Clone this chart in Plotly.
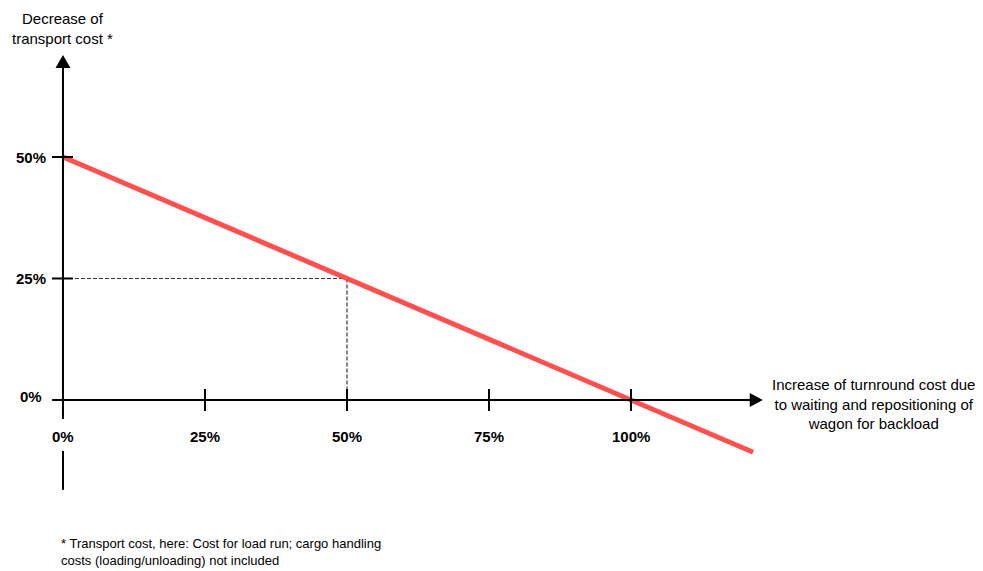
import plotly.graph_objects as go

# ---- data ----
x_ticks = [0, 25, 50, 75, 100]
x_tick_labels = ["0%", "25%", "50%", "75%", "100%"]
y_ticks = [0, 25, 50]
y_tick_labels = ["0%", "25%", "50%"]

line_x = [0, 121.5]          # increase of turnround cost (%)
line_y = [50, -10.75]        # decrease of transport cost (%)

ref_x = [0, 50]              # dashed reference at 50% -> 25%
ref_y = [25, 25]

x_axis_extent = [-1.9, 121.0]   # x axis line (before arrow head)
x_arrow_tip = 123.2
y_axis_lower = [-18.5, -10.5]   # y axis below the "0%" label
y_axis_upper = [-3.9, 68.3]     # y axis above the label (to arrow base)

y_title = "Decrease of<br>transport cost *"
x_title = "Increase of turnround cost due<br>to waiting and repositioning of<br>wagon for backload"
footnote = "* Transport cost, here: Cost for load run; cargo handling<br>costs (loading/unloading) not included"

FONT = "Arial, Liberation Sans, sans-serif"
RED = "#FF5050"

fig = go.Figure()

# main red line
fig.add_trace(go.Scatter(x=line_x, y=line_y, mode="lines",
                         line=dict(color=RED, width=5), hoverinfo="skip",
                         showlegend=False))

shapes = []
# dashed reference lines
shapes.append(dict(type="line", xref="x", yref="y", x0=ref_x[0], x1=ref_x[1],
                   y0=ref_y[0], y1=ref_y[1],
                   line=dict(color="#333333", width=1, dash="4px,2px"), layer="below"))
shapes.append(dict(type="line", xref="x", yref="y", x0=ref_x[1], x1=ref_x[1],
                   y0=ref_y[1], y1=2.3,
                   line=dict(color="#333333", width=1.2, dash="4px,2px"), layer="below"))

# x axis line
shapes.append(dict(type="line", xref="x", yref="y", x0=x_axis_extent[0], x1=x_axis_extent[1],
                   y0=0, y1=0, line=dict(color="black", width=2)))
# y axis segments
for seg in (y_axis_lower, y_axis_upper):
    shapes.append(dict(type="line", xref="x", yref="y", x0=0, x1=0,
                       y0=seg[0], y1=seg[1], line=dict(color="black", width=2)))

# arrow heads (pixel-sized paths anchored at data positions)
shapes.append(dict(type="path", xref="x", yref="y", xsizemode="pixel", ysizemode="pixel",
                   xanchor=x_arrow_tip, yanchor=0,
                   path="M 0 0 L -13 7 L -13 -7 Z",
                   fillcolor="black", line=dict(color="black", width=0)))
shapes.append(dict(type="path", xref="x", yref="y", xsizemode="pixel", ysizemode="pixel",
                   xanchor=0, yanchor=y_axis_upper[1],
                   path="M 0 13 L -7.5 0 L 7.5 0 Z",
                   fillcolor="black", line=dict(color="black", width=0)))

# x ticks
for xv in x_ticks[1:]:
    shapes.append(dict(type="line", xref="x", yref="y", ysizemode="pixel", yanchor=0,
                       x0=xv, x1=xv, y0=-11, y1=11, line=dict(color="black", width=2)))
# y ticks
for yv in y_ticks[1:]:
    shapes.append(dict(type="line", xref="x", yref="y", xsizemode="pixel", xanchor=0,
                       x0=-11, x1=10, y0=yv, y1=yv, line=dict(color="black", width=2)))

annotations = []
for xv, lab in zip(x_ticks, x_tick_labels):
    annotations.append(dict(x=xv, y=0, xref="x", yref="y", text=f"<b>{lab}</b>",
                            showarrow=False, xanchor="center", yanchor="middle",
                            yshift=-37, font=dict(family=FONT, size=15, color="black")))
for yv, lab in zip(y_ticks, y_tick_labels):
    annotations.append(dict(x=0, y=yv, xref="x", yref="y", text=f"<b>{lab}</b>",
                            showarrow=False, xanchor="right", yanchor="middle",
                            xshift=-15 if yv else -19, yshift=0 if yv else 3,
                            font=dict(family=FONT, size=15, color="black")))

annotations.append(dict(x=0, y=1, xref="x", yref="paper", text=y_title, showarrow=False,
                        xanchor="center", yanchor="top", yshift=0, align="center",
                        font=dict(family=FONT, size=15, color="black")))
annotations.append(dict(x=x_arrow_tip, y=0, xref="x", yref="y", text=x_title, showarrow=False,
                        xanchor="left", yanchor="middle", xshift=7, yshift=-4, align="center",
                        font=dict(family=FONT, size=15, color="black")))
annotations.append(dict(x=0, y=-31.3, xref="x", yref="y", text=footnote, showarrow=False,
                        xanchor="left", yanchor="middle", xshift=-4, align="left",
                        font=dict(family=FONT, size=13, color="black")))

# the page body adds an 8px margin, so the figure is 8px smaller and the ranges start there
fig.update_layout(
    width=975, height=563,
    margin=dict(l=0, r=0, t=0, b=0),
    paper_bgcolor="white", plot_bgcolor="white",
    xaxis=dict(range=[-9.68, 161.97], visible=False, fixedrange=True),
    yaxis=dict(range=[-35.19, 80.66], visible=False, fixedrange=True),
    shapes=shapes, annotations=annotations, showlegend=False,
)

fig.write_html("out.html")
